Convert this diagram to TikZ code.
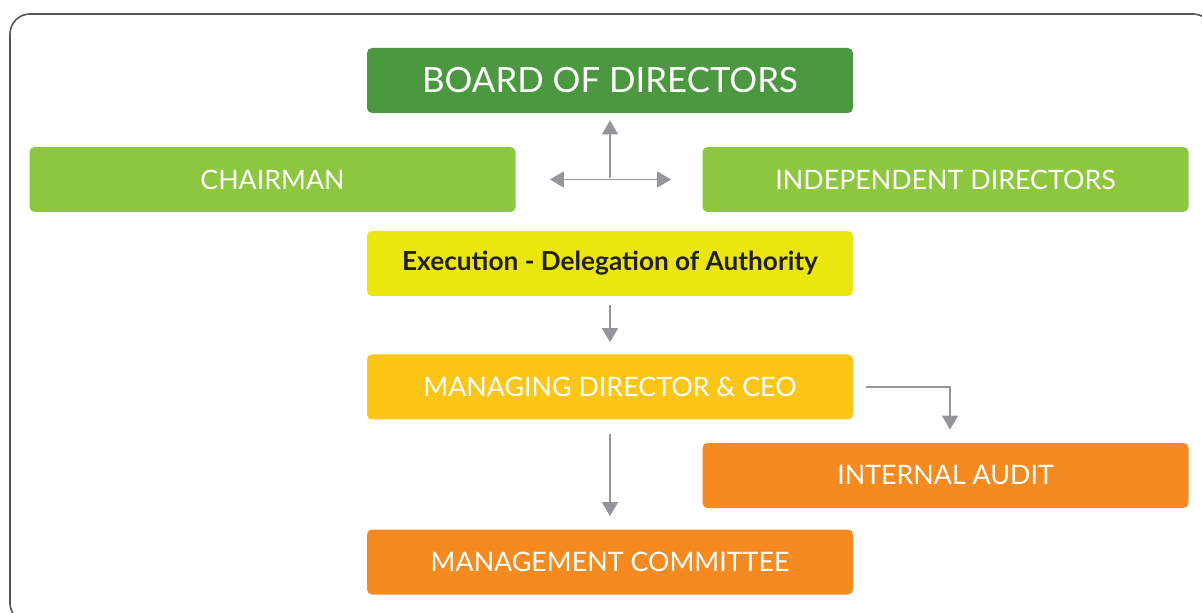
\documentclass[tikz,border=0pt]{standalone}
\usepackage{fontspec}
\setmainfont{Lato}
\usepackage{xcolor}
\usepackage{tikz}
\usetikzlibrary{arrows.meta,positioning}

\definecolor{boardgreen}{HTML}{4C9841}
\definecolor{lightgreen}{HTML}{8DC63F}
\definecolor{execyellow}{HTML}{ECE60F}
\definecolor{ceoyellow}{HTML}{FDC516}
\definecolor{auditorange}{HTML}{F58A21}
\definecolor{arrowgray}{HTML}{939598}
\definecolor{framegray}{HTML}{555555}
\definecolor{darktext}{HTML}{231F20}

\begin{document}
\begin{tikzpicture}[
    x=0.5pt, y=-0.5pt,
    font=\fontsize{13.4}{16}\selectfont,
    box/.style={rounded corners=2.5pt, align=center, text=white, minimum width=243pt, minimum height=32.5pt, inner sep=0pt},
    arrow/.style={-{Triangle[width=8pt,length=7pt]}, line width=0.8pt, draw=arrowgray},
    twoway/.style={{Triangle[width=8pt,length=7pt]}-{Triangle[width=8pt,length=7pt]}, line width=0.8pt, draw=arrowgray}
]
\useasboundingbox (0,0) rectangle (1202,613);
\draw[framegray, line width=0.8pt, rounded corners=10pt] (10,14) rectangle (1213,623);

\node[box, fill=boardgreen, font=\fontsize{17.4}{20}\selectfont] (board) at (610,80.5) {BOARD OF DIRECTORS};
\node[box, fill=lightgreen] (chair) at (272.5,179.5) {CHAIRMAN};
\node[box, fill=lightgreen] (indep) at (945.5,179.5) {INDEPENDENT DIRECTORS};
\node[box, fill=execyellow, text=darktext, font=\fontsize{13.1}{16}\selectfont\bfseries] (exec) at (610,263.5) {Execution - Delegation of Authority};
\node[box, fill=ceoyellow] (ceo) at (610,387) {MANAGING DIRECTOR \& CEO};
\node[box, fill=auditorange] (audit) at (945.5,475.5) {INTERNAL AUDIT};
\node[box, fill=auditorange] (mgmt) at (610,562) {MANAGEMENT COMMITTEE};

\coordinate (hub) at (610,178);

\draw[twoway, shorten <=17pt, shorten >=15.5pt] (chair.east) -- (indep.west);
\draw[arrow, shorten >=3.5pt] (hub) -- (board.south);
\draw[arrow, shorten <=4.5pt, shorten >=6pt] (exec.south) -- (ceo.north);
\draw[arrow, shorten <=7pt, shorten >=6.5pt] (ceo.south) -- (mgmt.north);
\draw[arrow, shorten <=6.5pt, shorten >=6.5pt] (ceo.east) -| ([xshift=2.25pt]audit.north);
\end{tikzpicture}
\end{document}
